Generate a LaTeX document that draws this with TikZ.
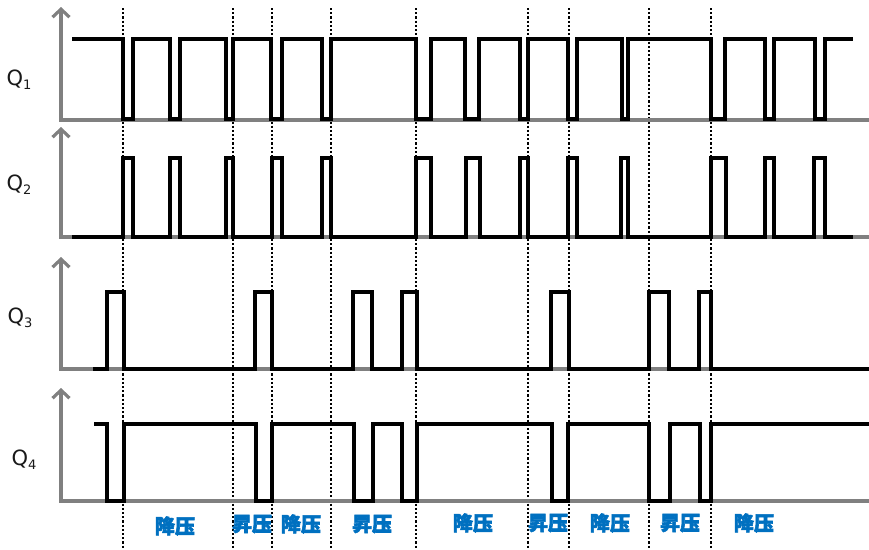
\documentclass[tikz,border=0pt]{standalone}
\usepackage{fontspec}
\setmainfont{DejaVu Sans}
\newfontfamily\cjk[FakeBold=3]{Noto Sans CJK SC}
\usetikzlibrary{arrows.meta}
\definecolor{axisgray}{RGB}{128,128,128}
\definecolor{lblblue}{RGB}{0,112,192}
\tikzset{
  axisline/.style={draw=axisgray,line width=3.4pt},
  axisarrow/.style={draw=axisgray,line width=3.4pt,-{Straight Barb[length=8pt,width=17pt,line width=3.2pt]}},
  wave/.style={draw=black,line width=3.2pt,line join=miter,line cap=butt},
  divider/.style={draw=black,line width=2.4pt,dash pattern=on 2.2pt off 2pt},
  qlabel/.style={font=\fontsize{21}{21}\selectfont,text=black!90,inner sep=0pt},
  modelabel/.style={font=\cjk\fontsize{20}{20}\selectfont\bfseries,text=lblblue,inner sep=0pt}
}
\newcommand{\qsub}[1]{Q\raisebox{-0.35ex}{\fontsize{13}{13}\selectfont #1}}
\begin{document}
\begin{tikzpicture}[x=1pt,y=-1pt]
\useasboundingbox (0,0) rectangle (869,549);
% dividers
\foreach \x in {123,233,272,331,416,528,569,649,711}
  \draw[divider] (\x,8) -- (\x,549);
% axes
\foreach \b/\t in {120/7,237/127,369/257,501/388}{
  \draw[axisline] (61,\b) -- (869,\b);
  \draw[axisarrow] (61,\b+1.7) -- (61,\t);
}
% Q1
\draw[wave] (72,39) \foreach \a/\b in {123/133,170/180,226/233,271/282,322/331,416/431,465/479,520/528,568/577,622/628,711/725,765/774,815/825}
  { -- (\a,39) -- (\a,119) -- (\b,119) -- (\b,39) } -- (853,39);
% Q2
\draw[wave] (72,237) \foreach \a/\b in {123/133,170/180,226/233,272/282,322/331,416/431,466/480,520/528,568/577,621/628,711/726,765/774,814/825}
  { -- (\a,237) -- (\a,158) -- (\b,158) -- (\b,237) } -- (853,237);
% Q3
\draw[wave] (93,369) \foreach \a/\b in {107/124,255/272,353/372,402/417,551/569,649/669,699/711}
  { -- (\a,369) -- (\a,292) -- (\b,292) -- (\b,369) } -- (869,369);
% Q4
\draw[wave] (94,424) \foreach \a/\b in {107/124,256/272,354/373,402/417,552/568,649/670,700/711}
  { -- (\a,424) -- (\a,501) -- (\b,501) -- (\b,424) } -- (869,424);
% labels
\node[qlabel] (q1) at (19,80) {\qsub{1}};
\node[qlabel] (q2) at (19,185) {\qsub{2}};
\node[qlabel] (q3) at (20,318) {\qsub{3}};
\node[qlabel] (q4) at (24,460) {\qsub{4}};
\node[modelabel] (m1) at (175,526) {降压};
\node[modelabel] (m2) at (252,524) {昇压};
\node[modelabel] (m3) at (301,524) {降压};
\node[modelabel] (m4) at (372,524) {昇压};
\node[modelabel] (m5) at (473,523) {降压};
\node[modelabel] (m6) at (548,523) {昇压};
\node[modelabel] (m7) at (610,523) {降压};
\node[modelabel] (m8) at (680,523) {昇压};
\node[modelabel] (m9) at (754,523) {降压};
\end{tikzpicture}
\end{document}
